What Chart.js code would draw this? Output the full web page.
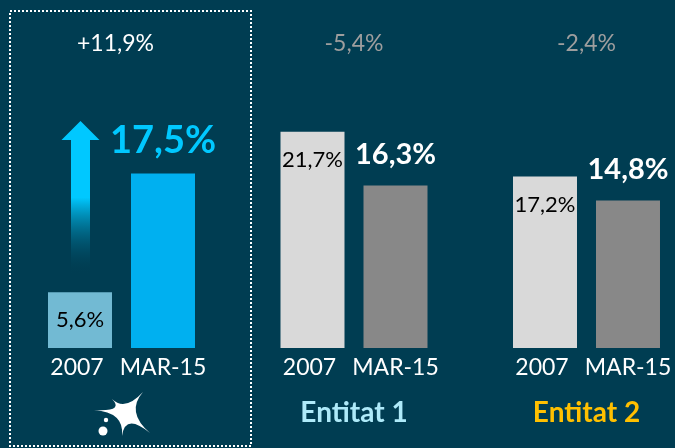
<!DOCTYPE html>
<html>
<head>
<meta charset="utf-8">
<script src="https://cdn.jsdelivr.net/npm/chart.js@4/dist/chart.umd.min.js"></script>
<style>
  html, body { margin: 0; padding: 0; background: #003d52; overflow: hidden; }
  #wrap { width: 675px; height: 448px; position: relative; }
</style>
</head>
<body>
<div id="wrap"><canvas id="c" width="675" height="448"></canvas></div>
<script>
// Groups and the two periods compared in each one
const groups = ['CaixaBank', 'Entitat 1', 'Entitat 2'];
const periods = ['2007', 'MAR-15'];
const share2007 = [5.6, 21.7, 17.2];
const shareMar15 = [17.5, 16.3, 14.8];
const groupTitles = ['', 'Entitat 1', 'Entitat 2'];

const BG = '#003d52';
const FONT = 'Lato, "Open Sans", sans-serif';
const colors2007 = ['#72bad3', '#d9d9d9', '#d9d9d9'];
const colorsMar15 = ['#00b0f0', '#888888', '#888888'];
const titleColors = ['#ffffff', '#aeeaf9', '#ffc000'];

const fmt = v => v.toFixed(1).replace('.', ',') + '%';
const fmtDelta = v => (v > 0 ? '+' : '-') + Math.abs(v).toFixed(1).replace('.', ',') + '%';

// CaixaBank star mark: five tapered arms and two dots
function drawStar(ctx, cx, cy) {
  ctx.save();
  ctx.fillStyle = '#ffffff';
  const tips = [[-29, -1], [-11, -12], [20, -19], [27, 22], [-1, 25]];
  const hub = [2, 1];
  ctx.beginPath();
  ctx.moveTo(cx + tips[0][0], cy + tips[0][1]);
  for (let i = 1; i <= tips.length; i++) {
    const t = tips[i % tips.length];
    const p = tips[i - 1];
    const mx = (p[0] + t[0]) / 2, my = (p[1] + t[1]) / 2;
    const kx = hub[0] + (mx - hub[0]) * 0.02, ky = hub[1] + (my - hub[1]) * 0.02;
    ctx.quadraticCurveTo(cx + kx, cy + ky, cx + t[0], cy + t[1]);
  }
  ctx.closePath();
  ctx.fill();
  ctx.beginPath();
  ctx.arc(cx - 20, cy + 20, 4.5, 0, Math.PI * 2);
  ctx.fill();
  ctx.beginPath();
  ctx.arc(cx - 17, cy + 9, 2.2, 0, Math.PI * 2);
  ctx.fill();
  ctx.restore();
}

const overlay = {
  id: 'overlay',
  beforeDraw(chart) {
    const ctx = chart.ctx;
    ctx.save();
    ctx.fillStyle = BG;
    ctx.fillRect(0, 0, chart.width, chart.height);
    ctx.restore();
  },
  afterDatasetsDraw(chart) {
    const ctx = chart.ctx;
    const m0 = chart.getDatasetMeta(0).data;
    const m1 = chart.getDatasetMeta(1).data;
    const xs = chart.scales.x;
    ctx.save();
    ctx.textAlign = 'center';
    ctx.textBaseline = 'middle';

    groups.forEach((g, i) => {
      const b0 = m0[i], b1 = m1[i];
      const gx = xs.getPixelForValue(i);
      // value inside the 2007 bar
      ctx.fillStyle = '#000000';
      ctx.font = '22px ' + FONT;
      ctx.fillText(fmt(share2007[i]), b0.x, b0.y + 28);
      // value above the MAR-15 bar
      const big = i === 0;
      ctx.fillStyle = big ? '#00c8ff' : '#ffffff';
      ctx.font = 'bold ' + (big ? 38 : 29) + 'px ' + FONT;
      ctx.fillText(fmt(shareMar15[i]), b1.x, b1.y - (big ? 33 : 31));
      // period labels
      ctx.fillStyle = '#ffffff';
      ctx.font = '23px ' + FONT;
      ctx.fillText(periods[0], b0.x - 3, 368);
      ctx.fillText(periods[1], b1.x, 368);
      // change between periods
      const d = shareMar15[i] - share2007[i];
      ctx.fillStyle = d > 0 ? '#ffffff' : '#9e9e9e';
      ctx.font = '23px ' + FONT;
      ctx.fillText(fmtDelta(d), gx - (i === 0 ? 6 : 0), 44);
      // group title
      if (groupTitles[i]) {
        ctx.fillStyle = titleColors[i];
        ctx.font = 'bold 28px ' + FONT;
        ctx.fillText(groupTitles[i], gx, 413);
      }
    });

    // growth arrow next to the first group
    const a = m0[0];
    const ax = a.x + 0.5;
    const grad = ctx.createLinearGradient(0, 121, 0, 274);
    grad.addColorStop(0, '#00c8ff');
    grad.addColorStop(0.5, '#00c8ff');
    grad.addColorStop(1, 'rgba(0,61,82,0)');
    ctx.fillStyle = grad;
    ctx.beginPath();
    ctx.moveTo(ax, 121);
    ctx.lineTo(ax + 19, 140);
    ctx.lineTo(ax + 9.5, 140);
    ctx.lineTo(ax + 9.5, 274);
    ctx.lineTo(ax - 9.5, 274);
    ctx.lineTo(ax - 9.5, 140);
    ctx.lineTo(ax - 19, 140);
    ctx.closePath();
    ctx.fill();

    // dotted frame around the first group
    ctx.strokeStyle = '#ffffff';
    ctx.lineWidth = 2;
    ctx.setLineDash([2, 2]);
    ctx.strokeRect(10, 11, 241, 435);
    ctx.setLineDash([]);

    drawStar(ctx, xs.getPixelForValue(0) + 1.5, 411);
    ctx.restore();
  }
};

new Chart(document.getElementById('c'), {
  type: 'bar',
  data: {
    labels: groups,
    datasets: [
      { label: periods[0], data: share2007, backgroundColor: colors2007, clip: false },
      { label: periods[1], data: shareMar15, backgroundColor: colorsMar15, clip: false }
    ]
  },
  options: {
    responsive: false,
    animation: false,
    devicePixelRatio: 1,
    categoryPercentage: 0.714,
    barPercentage: 0.771,
    layout: { padding: { left: 121.5, right: 88.5, top: 49, bottom: 100 } },
    plugins: { legend: { display: false }, tooltip: { enabled: false } },
    scales: {
      x: { display: false, offset: false, grid: { display: false } },
      y: { display: false, min: 0, max: 30, grid: { display: false } }
    }
  },
  plugins: [overlay]
});
</script>
</body>
</html>
